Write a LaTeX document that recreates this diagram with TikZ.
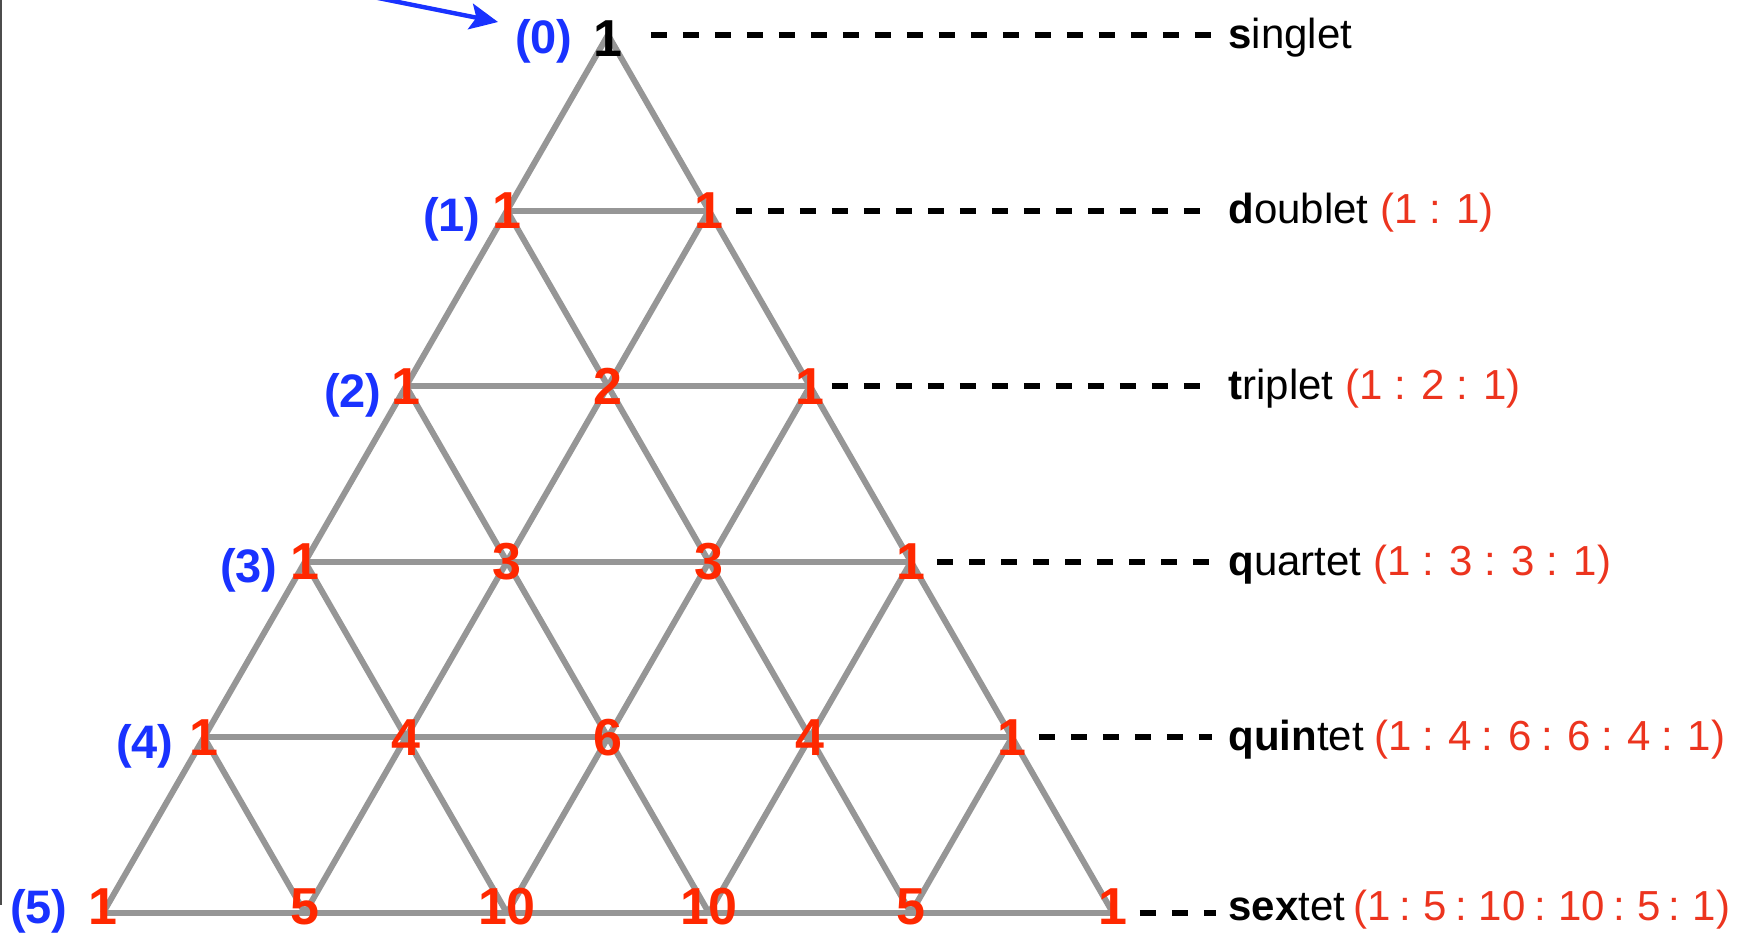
\documentclass[tikz,border=0pt]{standalone}
\usepackage{fontspec}
\setmainfont{Liberation Sans}
\usetikzlibrary{arrows.meta}
\definecolor{numred}{RGB}{255,40,0}
\definecolor{ratred}{RGB}{236,52,30}
\definecolor{lblblue}{RGB}{25,50,255}
\definecolor{gridgray}{RGB}{150,150,150}
\begin{document}
\begin{tikzpicture}[x=0.5pt,y=-0.5pt,
  grid/.style={draw=gridgray,line width=3pt},
  num/.style={font=\fontsize{26}{26}\selectfont\bfseries,text=numred,inner sep=0pt},
  lownum/.style={num,yshift=3pt},
  apexnum/.style={num,text=black},
  rowlbl/.style={font=\fontsize{23.5}{23.5}\selectfont\bfseries,text=lblblue,inner sep=0pt,anchor=east},
  mult/.style={font=\fontsize{21}{21}\selectfont,anchor=mid west,inner sep=0pt},
  lead/.style={draw=black,line width=3pt,dash pattern=on 8pt off 8pt},
  pointer/.style={draw=lblblue,line width=2.2pt,-{Stealth[length=14pt,width=13pt,inset=3pt]}},
  border/.style={draw=black!70,line width=1pt}]
\useasboundingbox (0,0) rectangle (1762,935);

% left border
\coordinate (btop) at (1,0);
\coordinate (bbot) at (1,905);
\draw[border] (btop) -- (bbot);

% lattice vertices
\foreach \r in {0,...,5}{
  \foreach \k in {0,...,\r}{
    \coordinate (v-\r-\k) at ({608+(2*\k-\r)*101},{35+\r*175.6});
  }
}

% horizontal segments
\foreach \r in {1,...,5}{
  \foreach \k in {1,...,\r}{
    \pgfmathtruncatemacro\km{\k-1}
    \draw[grid] (v-\r-\km) -- (v-\r-\k);
  }
}
% diagonal segments
\foreach \r in {0,...,4}{
  \pgfmathtruncatemacro\rn{\r+1}
  \foreach \k in {0,...,\r}{
    \pgfmathtruncatemacro\kn{\k+1}
    \draw[grid] (v-\r-\k) -- (v-\rn-\k);
    \draw[grid] (v-\r-\k) -- (v-\rn-\kn);
  }
}

% numbers
\node[apexnum,yshift=-2pt] (n-0-0) at (v-0-0) {1};
\node[num] (n-1-0) at (v-1-0) {1};
\node[num] (n-1-1) at (v-1-1) {1};
\node[num] (n-2-0) at (v-2-0) {1};
\node[num] (n-2-1) at (v-2-1) {2};
\node[num] (n-2-2) at (v-2-2) {1};
\node[num] (n-3-0) at (v-3-0) {1};
\node[num] (n-3-1) at (v-3-1) {3};
\node[num] (n-3-2) at (v-3-2) {3};
\node[num] (n-3-3) at (v-3-3) {1};
\node[num] (n-4-0) at (v-4-0) {1};
\node[num] (n-4-1) at (v-4-1) {4};
\node[num] (n-4-2) at (v-4-2) {6};
\node[num] (n-4-3) at (v-4-3) {4};
\node[num] (n-4-4) at (v-4-4) {1};
\node[lownum] (n-5-0) at (v-5-0) {1};
\node[lownum] (n-5-1) at (v-5-1) {5};
\node[lownum] (n-5-2) at (v-5-2) {10};
\node[lownum] (n-5-3) at (v-5-3) {10};
\node[lownum] (n-5-4) at (v-5-4) {5};
\node[lownum] (n-5-5) at (v-5-5) {1};

% row labels
\node[rowlbl] (l0) at ([xshift=-17.5pt,yshift=-3pt]v-0-0) {(0)};
\node[rowlbl] (l1) at ([xshift=-13pt,yshift=-4.5pt]v-1-0) {(1)};
\node[rowlbl] (l2) at ([xshift=-12pt,yshift=-4.5pt]v-2-0) {(2)};
\node[rowlbl] (l3) at ([xshift=-13.5pt,yshift=-4.5pt]v-3-0) {(3)};
\node[rowlbl] (l4) at ([xshift=-15pt,yshift=-4.5pt]v-4-0) {(4)};
\node[rowlbl] (l5) at ([xshift=-17.5pt,yshift=1pt]v-5-0) {(5)};

% multiplicity labels
\node[mult] (m0) at (1228,43) {\textbf{s}inglet};
\node[mult] (m1) at (1228,218.6) {\textbf{d}oublet \textcolor{ratred}{(1 : 1)}};
\node[mult] (m2) at (1228,394.2) {\textbf{t}riplet \textcolor{ratred}{(1 : 2 : 1)}};
\node[mult] (m3) at (1228,569.8) {\textbf{q}uartet \textcolor{ratred}{(1 : 3 : 3 : 1)}};
\node[mult] (m4) at (1228,745.4) {\spaceskip=0.25em\relax\textbf{quin}tet \textcolor{ratred}{(1 : 4 : 6 : 6 : 4 : 1)}};
\node[mult] (m5) at (1228,915) {\spaceskip=0.2em\relax\textbf{sex}tet \textcolor{ratred}{(1 : 5 : 10 : 10 : 5 : 1)}};

% dashed leaders
\draw[lead,shorten <=14pt,shorten >=8pt] (n-0-0.east |- v-0-0) -- (v-0-0 -| m0.west);
\draw[lead,shorten <=6pt,shorten >=8pt] (n-1-1.east) -- (n-1-1.east -| m1.west);
\draw[lead,shorten <=3.5pt,shorten >=8pt] (n-2-2.east) -- (n-2-2.east -| m2.west);
\draw[lead,shorten <=5.75pt,shorten >=8pt] (n-3-3.east) -- (n-3-3.east -| m3.west);
\draw[lead,shorten <=6pt,shorten >=8pt] (n-4-4.east) -- (n-4-4.east -| m4.west);
\draw[lead,shorten <=6pt,shorten >=6pt] (n-5-5.east |- v-5-5) -- (v-5-5 -| m5.west);

% pointer arrow
\coordinate (ptail) at (373,-3);
\coordinate (ptip) at (498,22);
\draw[pointer] (ptail) -- (ptip);
\end{tikzpicture}
\end{document}
